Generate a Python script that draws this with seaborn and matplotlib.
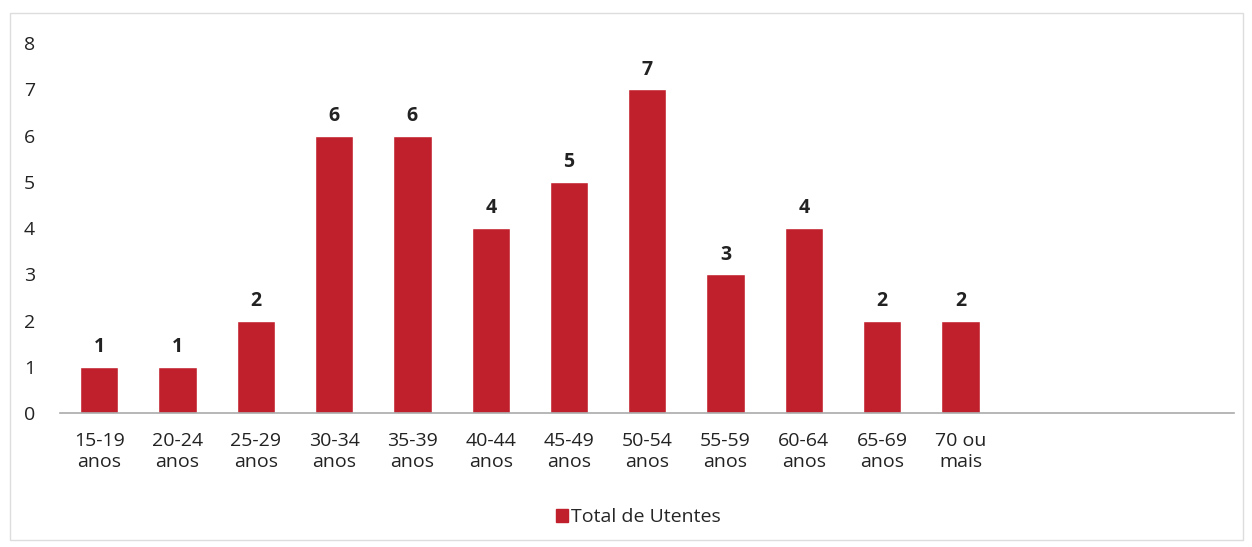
import pandas as pd
import seaborn as sns
import matplotlib.pyplot as plt
from matplotlib.patches import Rectangle, Patch

# -----------------------
# Data
# -----------------------
faixas = ["15-19\nanos", "20-24\nanos", "25-29\nanos", "30-34\nanos",
          "35-39\nanos", "40-44\nanos", "45-49\nanos", "50-54\nanos",
          "55-59\nanos", "60-64\nanos", "65-69\nanos", "70 ou\nmais"]
utentes = [1, 1, 2, 6, 6, 4, 5, 7, 3, 4, 2, 2]
y_ticks = [0, 1, 2, 3, 4, 5, 6, 7, 8]

df = pd.DataFrame({"faixa": faixas, "utentes": utentes})

# -----------------------
# Setup
# -----------------------
sns.set_theme(style="white")
plt.rcParams["font.family"] = ["Open Sans", "DejaVu Sans"]
COR = "#c0202b"

fig = plt.figure(figsize=(12.52, 5.47), dpi=100)
ax = fig.add_axes([0.048, 0.245, 0.938, 0.676])

sns.barplot(data=df, x="faixa", y="utentes", color=COR, width=0.49,
            saturation=1, ax=ax)

for c in ax.containers:
    ax.bar_label(c, padding=7, fontsize=14, fontweight="bold", color="#222222")

ax.set_xlim(-0.5, 14.5)
ax.set_ylim(0, 8)
ax.set_yticks(y_ticks)
ax.set_xlabel("")
ax.set_ylabel("")
ax.tick_params(axis="both", labelsize=14, colors="#222222", length=0)
ax.tick_params(axis="x", pad=14)
ax.tick_params(axis="y", pad=18)
for s in ["top", "right", "left"]:
    ax.spines[s].set_visible(False)
ax.spines["bottom"].set_color("#aaaaaa")
ax.spines["bottom"].set_linewidth(1.2)

# legend
fig.legend(handles=[Patch(color=COR, label="Total de Utentes")],
           loc="center", bbox_to_anchor=(0.51, 0.054), frameon=False,
           fontsize=14, handlelength=0.6, handleheight=0.6, handletextpad=0.2)

# scanned frame
fig.patches.append(Rectangle((0.008, 0.012), 0.985, 0.965, transform=fig.transFigure,
                             fill=False, edgecolor="#dddddd", linewidth=1))

fig.savefig("out.png", dpi=100)
